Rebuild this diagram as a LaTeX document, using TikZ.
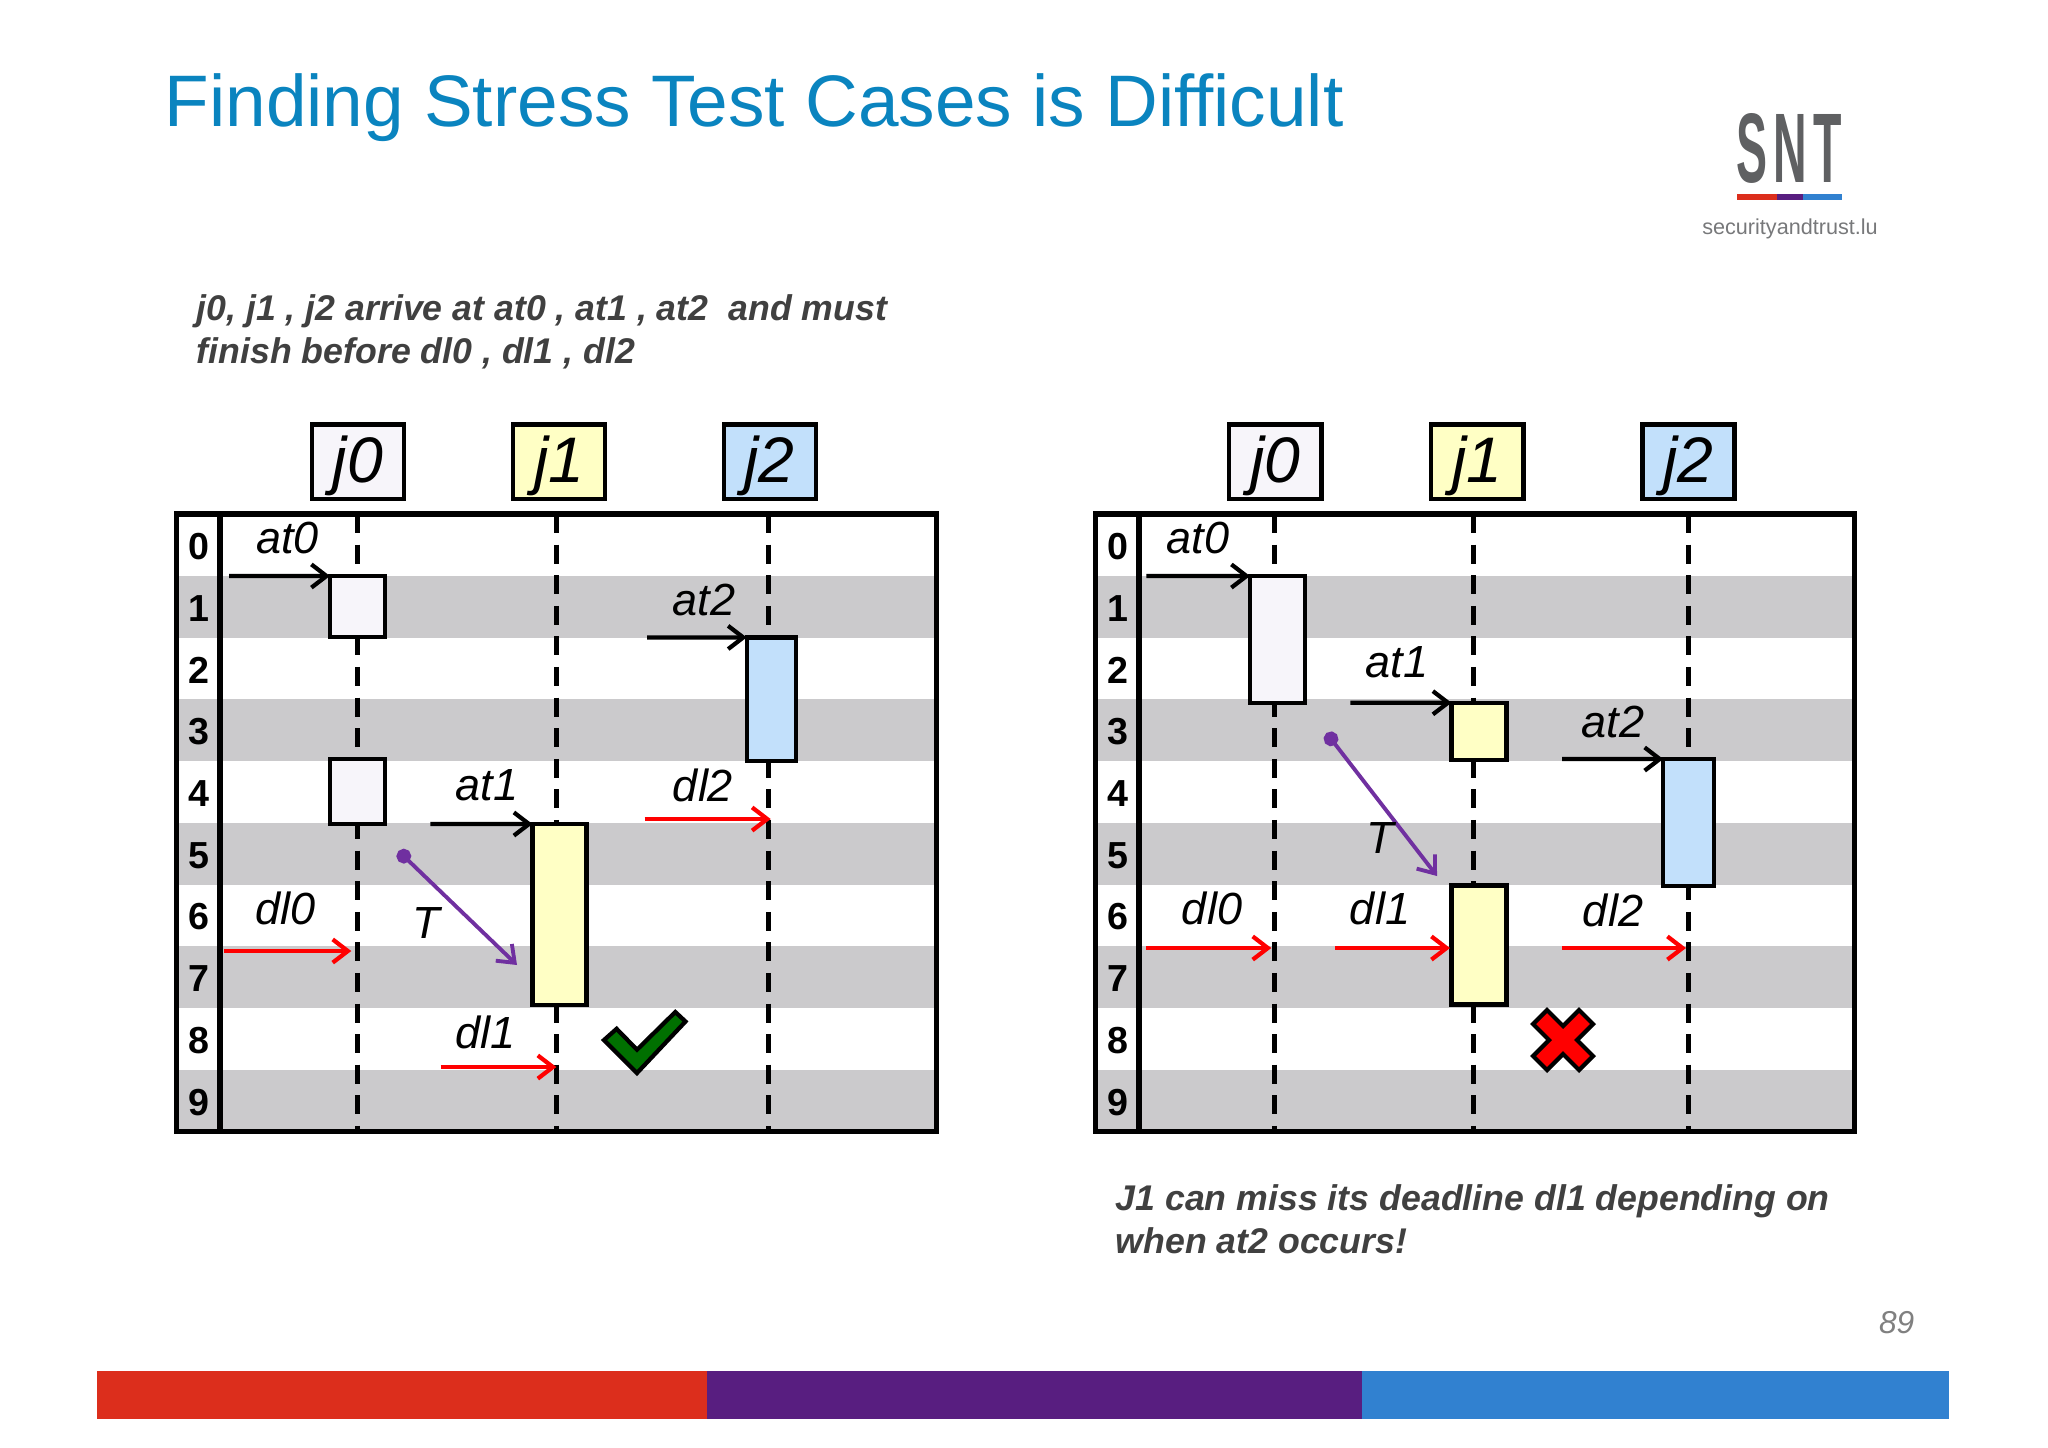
\documentclass[tikz,border=0pt]{standalone}
\usepackage{fontspec}
\setmainfont{Liberation Sans}
\usetikzlibrary{arrows.meta}
\definecolor{titleblue}{HTML}{0A84BF}
\definecolor{rowgray}{HTML}{CBCACC}
\definecolor{bodygray}{HTML}{404040}
\definecolor{jzero}{HTML}{F7F5FA}
\definecolor{jone}{HTML}{FFFFC5}
\definecolor{jtwo}{HTML}{C2E0FB}
\definecolor{tpurple}{HTML}{7030A0}
\definecolor{okgreen}{HTML}{007000}
\definecolor{barred}{HTML}{DC2E1C}
\definecolor{barpurple}{HTML}{581E80}
\definecolor{barblue}{HTML}{3181D0}
\definecolor{logogray}{HTML}{5F6062}
\tikzset{
  headbox/.style={draw,line width=1.2pt,inner sep=0pt,outer sep=0pt,minimum width=0.92cm,minimum height=0.74cm,text height=14pt,text depth=2pt,font=\fontsize{18.3}{22}\selectfont\itshape},
  execbox/.style={draw,line width=1.2pt,inner sep=0pt,outer sep=0pt},
  frameline/.style={line width=1.5pt},
  lifeline/.style={line width=1.3pt,dash pattern=on 5.4pt off 3.3pt},
  atarrow/.style={line width=1.2pt,-{Straight Barb[length=4.3pt,width=6.6pt]}},
  dlarrow/.style={atarrow,red},
  tarrow/.style={line width=1.1pt,tpurple,{Circle[length=4.2pt]}-{Straight Barb[length=4.3pt,width=6.6pt]}},
  timelabel/.style={inner sep=0pt,font=\fontsize{12.8}{15}\selectfont\itshape},
  rownum/.style={inner sep=0pt,font=\fontsize{10.7}{12}\selectfont\bfseries},
  bodytext/.style={inner sep=0pt,anchor=west,align=left,text=bodygray,font=\fontsize{10.15}{12.2}\selectfont\bfseries\itshape},
}
\begin{document}
\begin{tikzpicture}[x=0.01cm,y=-0.01cm]
  \useasboundingbox (0,0) rectangle (2048,1447);

  % title and logo
  \node (title) [inner sep=0pt,anchor=west,text=titleblue,font=\fontsize{20.75}{26}\selectfont] at (164,107.5) {Finding Stress Test Cases is Difficult};
  \node (logo) [inner sep=0pt,text=logogray] at (1789,148) {\resizebox{1.05cm}{0.69cm}{\bfseries S\kern.13em N\kern.13em T}};
  \fill[barred] (1737,194) rectangle (1777,200);
  \fill[barpurple] (1777,194) rectangle (1803,200);
  \fill[barblue] (1803,194) rectangle (1842,200);
  \node (site) [inner sep=0pt,text=logogray!85,font=\fontsize{6.15}{8}\selectfont] at (1790,229) {securityandtrust.lu};

  % texts
  \node (topnote) [bodytext] at (196,331.5) {j0, j1 , j2 arrive at at0 , at1 , at2~ and must\\finish before dl0 , dl1 , dl2};
  \node (botnote) [bodytext] at (1115,1219) {J1 can miss its deadline dl1 depending on\\when at2 occurs!};
  \node (pageno) [inner sep=0pt,anchor=east,text=gray,font=\fontsize{9}{11}\selectfont\itshape] at (1915,1323) {89};

  % bottom bar
  \fill[barred] (97,1371) rectangle (707,1419);
  \fill[barpurple] (707,1371) rectangle (1362,1419);
  \fill[barblue] (1362,1371) rectangle (1949,1419);

  % both grids
  \foreach \xl/\xd/\xr in {176.8/220/936.5,1095.3/1139/1854.5}{
    \foreach \r in {1,3,5,7,9}
      \fill[rowgray] (\xl,{514+\r*61.75}) rectangle (\xr,{514+(\r+1)*61.75});
    \foreach \r in {0,...,9}
      \node (num\r) [rownum] at ({(\xl+\xd)/2+0.5},{546.5+\r*61.75}) {\r};
  }

  %% left grid
  \foreach \x in {357.5,556.4,768.7}
    \draw[lifeline] (\x,514) -- (\x,1131.5);
  \draw[frameline] (176.8,514) rectangle (936.5,1131.5);
  \draw[frameline] (220,514) -- (220,1131.5);

  \node (lj0) [headbox,fill=jzero] at (357.8,461.6) {j0};
  \node (lj1) [headbox,fill=jone] at (559.2,461.6) {j1};
  \node (lj2) [headbox,fill=jtwo] at (769.7,461.6) {j2};

  \node (lj0a) [execbox,fill=jzero,minimum width=0.55cm,minimum height=0.61cm] at (357.5,606.5) {};
  \node (lj0b) [execbox,fill=jzero,minimum width=0.55cm,minimum height=0.65cm] at (357.5,791.5) {};
  \node (lj1a) [execbox,fill=jone,minimum width=0.54cm,minimum height=1.805cm] at (559.5,914.3) {};
  \node (lj2a) [execbox,fill=jtwo,minimum width=0.495cm,minimum height=1.235cm] at (771.5,699.2) {};

  \coordinate (lat0) at (229,576);
  \coordinate (lat1) at (430.4,824);
  \coordinate (lat2) at (647,637.5);
  \draw[atarrow] (lat0) -- (lj0a.north west);
  \draw[atarrow] (lat1) -- (lj1a.north west);
  \draw[atarrow] (lat2) -- (lj2a.north west);

  \coordinate (ldl0a) at (223.8,951);
  \coordinate (ldl0b) at (351.3,951);
  \coordinate (ldl1a) at (440.6,1067);
  \coordinate (ldl1b) at (556.4,1067);
  \coordinate (ldl2a) at (644.7,819);
  \coordinate (ldl2b) at (770.7,819);
  \draw[dlarrow] (ldl0a) -- (ldl0b);
  \draw[dlarrow] (ldl1a) -- (ldl1b);
  \draw[dlarrow] (ldl2a) -- (ldl2b);

  \coordinate (lta) at (398.5,851);
  \coordinate (ltb) at (517,965);
  \draw[tarrow] (lta) -- (ltb);

  \node (ltat0) [timelabel] at (287.5,538) {at0};
  \node (ltat1) [timelabel] at (487,785) {at1};
  \node (ltat2) [timelabel] at (704,599.5) {at2};
  \node (ltdl0) [timelabel] at (286,908) {dl0};
  \node (ltdl1) [timelabel] at (486,1032) {dl1};
  \node (ltdl2) [timelabel] at (703,785) {dl2};
  \node (ltt) [timelabel] at (426,923) {T};

  \draw[line width=1.2pt,fill=okgreen,line join=miter] (604,1040) -- (616.6,1028.8) -- (637,1049.7) -- (675.3,1012) -- (685.5,1021.5) -- (637,1073) -- cycle;

  %% right grid
  \foreach \x in {1274.4,1473.4,1688.2}
    \draw[lifeline] (\x,514) -- (\x,1131.5);
  \draw[frameline] (1095.3,514) rectangle (1854.5,1131.5);
  \draw[frameline] (1139,514) -- (1139,1131.5);

  \node (rj0) [headbox,fill=jzero] at (1275.4,461.6) {j0};
  \node (rj1) [headbox,fill=jone] at (1477.4,461.6) {j1};
  \node (rj2) [headbox,fill=jtwo] at (1688.4,461.6) {j2};

  \node (rj0a) [execbox,fill=jzero,minimum width=0.55cm,minimum height=1.267cm] at (1277.5,639.4) {};
  \node (rj1a) [execbox,fill=jone,minimum width=0.55cm,minimum height=0.573cm] at (1479,731.4) {};
  \node (rj1b) [execbox,fill=jone,minimum width=0.55cm,minimum height=1.19cm] at (1479,945) {};
  \node (rj2a) [execbox,fill=jtwo,minimum width=0.505cm,minimum height=1.265cm] at (1688.5,822.3) {};

  \coordinate (rat0) at (1146.3,576);
  \coordinate (rat1) at (1350.4,702.7);
  \coordinate (rat2) at (1562,759);
  \draw[atarrow] (rat0) -- (rj0a.north west);
  \draw[atarrow] (rat1) -- (rj1a.north west);
  \draw[atarrow] (rat2) -- (rj2a.north west);

  \coordinate (rdl0a) at (1146.3,948);
  \coordinate (rdl0b) at (1271.3,948);
  \coordinate (rdl1a) at (1335,948);
  \coordinate (rdl1b) at (1450,948);
  \coordinate (rdl2a) at (1562,948);
  \coordinate (rdl2b) at (1686,948);
  \draw[dlarrow] (rdl0a) -- (rdl0b);
  \draw[dlarrow] (rdl1a) -- (rdl1b);
  \draw[dlarrow] (rdl2a) -- (rdl2b);

  \coordinate (rta) at (1326.5,733);
  \coordinate (rtb) at (1437,876);
  \draw[tarrow] (rta) -- (rtb);

  \node (rtat0) [timelabel] at (1198,538) {at0};
  \node (rtat1) [timelabel] at (1397,662) {at1};
  \node (rtat2) [timelabel] at (1613,722) {at2};
  \node (rtdl0) [timelabel] at (1212,908) {dl0};
  \node (rtdl1) [timelabel] at (1380,908) {dl1};
  \node (rtdl2) [timelabel] at (1613,910) {dl2};
  \node (rtt) [timelabel] at (1380,838) {T};

  \draw[line width=1.2pt,fill=red,line join=miter,shift={(1563,1040)}] (-16,-30) -- (0,-14) -- (16,-30) -- (30,-16) -- (14,0) -- (30,16) -- (16,30) -- (0,14) -- (-16,30) -- (-30,16) -- (-14,0) -- (-30,-16) -- cycle;
\end{tikzpicture}
\end{document}
